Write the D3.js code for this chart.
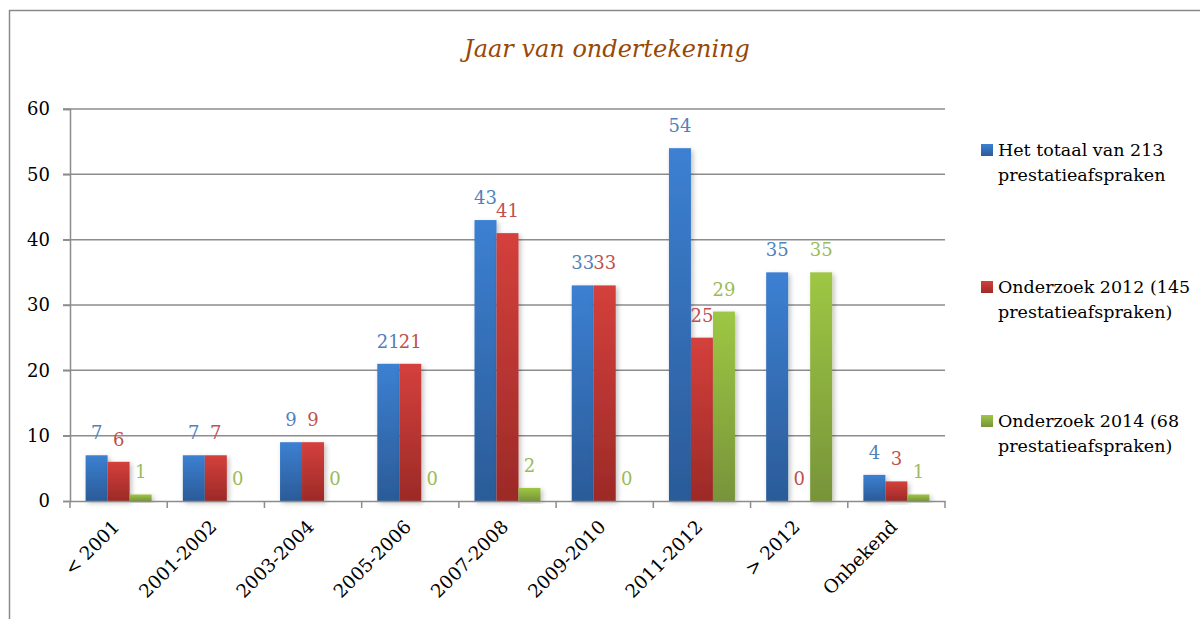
<!DOCTYPE html>
<html>
<head>
<meta charset="utf-8">
<script src="https://cdn.jsdelivr.net/npm/d3@7"></script>
<style>
  body { margin: 0; background: #fff; }
  svg { display: block; }
</style>
</head>
<body>
<svg id="chart" width="1200" height="619"></svg>
<script>
// categories on the x axis
const categories = ["< 2001", "2001-2002", "2003-2004", "2005-2006", "2007-2008",
                    "2009-2010", "2011-2012", "> 2012", "Onbekend"];
const seriesNames = ["Het totaal van 213|prestatieafspraken",
                     "Onderzoek 2012 (145|prestatieafspraken)",
                     "Onderzoek 2014 (68|prestatieafspraken)"];
const totaal = [7, 7, 9, 21, 43, 33, 54, 35, 4];
const onderzoek2012 = [6, 7, 9, 21, 41, 33, 25, 0, 3];
const onderzoek2014 = [1, 0, 0, 0, 2, 0, 29, 35, 1];
const yTicks = [0, 10, 20, 30, 40, 50, 60];

const series = [totaal, onderzoek2012, onderzoek2014];
const colors = [
  {top: "#3c80d2", bottom: "#2b5b98", label: "#4f81bd"},
  {top: "#d4403c", bottom: "#9c2a27", label: "#c0504d"},
  {top: "#9ec744", bottom: "#779439", label: "#9bbb59"}
];
const font = "DejaVu Serif";

const svg = d3.select("#chart");
const plotLeft = 70, plotRight = 945, plotTop = 109, plotBottom = 501;

// outer chart border
svg.append("rect")
  .attr("x", 9.5).attr("y", 10.5)
  .attr("width", 1300).attr("height", 700)
  .attr("fill", "none").attr("stroke", "#8a8a8a").attr("stroke-width", 1.5);

// gradients for bars
const defs = svg.append("defs");
colors.forEach((c, i) => {
  const g = defs.append("linearGradient")
    .attr("id", "grad" + i)
    .attr("x1", 0).attr("y1", 0).attr("x2", 0).attr("y2", 1);
  g.append("stop").attr("offset", "0%").attr("stop-color", c.top);
  g.append("stop").attr("offset", "100%").attr("stop-color", c.bottom);
});
const shadow = defs.append("filter").attr("id", "shadow")
  .attr("x", "-30%").attr("y", "-10%").attr("width", "160%").attr("height", "130%");
shadow.append("feDropShadow")
  .attr("dx", 2).attr("dy", 2).attr("stdDeviation", 2.5)
  .attr("flood-color", "#000").attr("flood-opacity", 0.25);

const x = d3.scaleBand().domain(categories).range([plotLeft, plotRight]);
const y = d3.scaleLinear().domain([0, 60]).range([plotBottom, plotTop]);
const barW = 22;
const groupW = barW * series.length;

// title
svg.append("text")
  .attr("x", 607).attr("y", 57)
  .attr("text-anchor", "middle")
  .attr("font-family", font)
  .attr("font-style", "italic")
  .attr("font-size", 24)
  .attr("fill", "#984807")
  .text("Jaar van ondertekening");

// gridlines
svg.append("g")
  .selectAll("line")
  .data(yTicks.filter(d => d > 0))
  .join("line")
  .attr("x1", plotLeft - 7).attr("x2", plotRight)
  .attr("y1", d => y(d)).attr("y2", d => y(d))
  .attr("stroke", "#8c8c8c").attr("stroke-width", 1.5);

// y axis
const yAxis = svg.append("g")
  .attr("transform", `translate(${plotLeft},0)`)
  .call(d3.axisLeft(y).tickValues(yTicks).tickSize(7).tickPadding(13));
yAxis.select(".domain").attr("stroke", "#8c8c8c").attr("stroke-width", 1.5);
yAxis.selectAll(".tick line").attr("stroke", "#8c8c8c").attr("stroke-width", 1.5);
yAxis.selectAll(".tick text")
  .attr("font-family", font).attr("font-size", 18).attr("fill", "#000");

// bars
categories.forEach((cat, ci) => {
  const gx = x(cat) + (x.bandwidth() - groupW) / 2;
  series.forEach((s, si) => {
    const v = s[ci];
    const bx = gx + si * barW;
    if (v > 0) {
      svg.append("rect")
        .attr("x", bx).attr("y", y(v))
        .attr("width", barW).attr("height", y(0) - y(v))
        .attr("fill", `url(#grad${si})`)
        .attr("filter", "url(#shadow)");
    }
    svg.append("text")
      .attr("x", bx + barW / 2).attr("y", y(v) - 16)
      .attr("text-anchor", "middle")
      .attr("font-family", font).attr("font-size", 18)
      .attr("fill", colors[si].label)
      .text(v);
  });
});

// x axis
const xAxis = svg.append("g")
  .attr("transform", `translate(0,${plotBottom})`)
  .call(d3.axisBottom(x).tickSize(0).tickPadding(0));
xAxis.select(".domain").attr("stroke", "#8c8c8c").attr("stroke-width", 1.5);
xAxis.selectAll(".tick text").remove();
svg.append("g")
  .selectAll("line")
  .data(d3.range(categories.length + 1))
  .join("line")
  .attr("x1", i => plotLeft + i * x.step()).attr("x2", i => plotLeft + i * x.step())
  .attr("y1", plotBottom).attr("y2", plotBottom + 7)
  .attr("stroke", "#8c8c8c").attr("stroke-width", 1.5);
svg.append("g")
  .selectAll("text")
  .data(categories)
  .join("text")
  .attr("transform", d => `translate(${x(d) + x.bandwidth() / 2 + 2},${plotBottom + 27}) rotate(-45)`)
  .attr("text-anchor", "end")
  .attr("font-family", font).attr("font-size", 18.5)
  .attr("fill", "#000")
  .text(d => d);

// legend
const legendY = [150, 287, 421];
seriesNames.forEach((name, i) => {
  const g = svg.append("g").attr("transform", `translate(981,${legendY[i]})`);
  g.append("rect")
    .attr("x", 0).attr("y", -6).attr("width", 12).attr("height", 12)
    .attr("fill", `url(#grad${i})`);
  name.split("|").forEach((line, li) => {
    g.append("text")
      .attr("x", 17).attr("y", li * 25 + 6)
      .attr("font-family", font).attr("font-size", 17.5)
      .attr("fill", "#000")
      .text(line);
  });
});
</script>
</body>
</html>
